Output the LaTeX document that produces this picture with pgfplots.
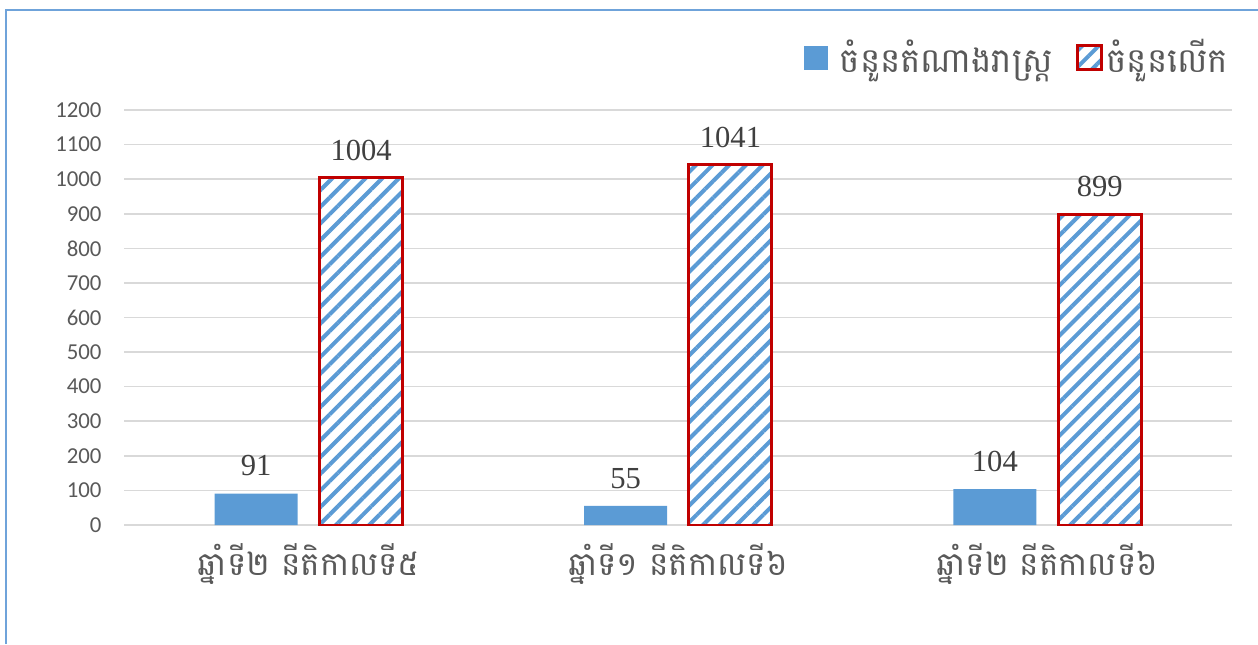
\documentclass[border=0pt]{standalone}
\usepackage{pgfplots}
\pgfplotsset{compat=1.18}
\usepackage{fontspec}
\usetikzlibrary{patterns.meta}
\setmainfont{Carlito}
\newfontfamily\khmer[Script=Khmer]{Battambang}
\newfontfamily\digitfont{Liberation Serif}
\definecolor{barblue}{HTML}{5B9BD5}
\definecolor{barred}{HTML}{C00000}
\definecolor{gridgray}{HTML}{D9D9D9}
\definecolor{txtgray}{HTML}{595959}
\definecolor{txtdark}{HTML}{404040}
\definecolor{frameblue}{HTML}{6FA3DA}
\begin{document}
\begin{tikzpicture}
\path[use as bounding box] (0,0) rectangle (629pt,322pt);
\draw[frameblue, line width=1pt] (3pt,0) -- (3pt,317pt) -- (629pt,317pt);
\begin{axis}[
  at={(62pt,59.5pt)}, anchor=south west,
  scale only axis, width=554pt, height=207.5pt,
  ybar, bar width=0.2248,
  xmin=-0.5, xmax=2.5, ymin=0, ymax=1200,
  ytick={0,100,...,1200},
  xtick={0,1,2},
  xticklabels={{ឆ្នាំទី២ នីតិកាលទី៥},{ឆ្នាំទី១ នីតិកាលទី៦},{ឆ្នាំទី២ នីតិកាលទី៦}},
  axis line style={draw=none},
  major tick length=0pt,
  ymajorgrids, grid style={gridgray, line width=0.8pt},
  /pgf/number format/assume math mode=true,
  /pgf/number format/1000 sep={},
  yticklabel style={font=\fontsize{11.4}{13}\selectfont, text=txtgray, anchor=east, xshift=-7.7pt},
  xticklabel style={font=\khmer\fontsize{16.3}{18}\selectfont, text=txtgray, anchor=base, yshift=-25pt},
  nodes near coords,
  every node near coord/.append style={font=\digitfont\fontsize{15.3}{18}\selectfont, text=txtdark, anchor=base, yshift=8.8pt},
  legend columns=2,
  legend style={draw=none, at={(rel axis cs:1.0005,1.126)}, anchor=east, inner sep=0pt,
    font=\khmer\fontsize{17}{19}\selectfont, text=txtgray,
    /tikz/every even column/.append style={column sep=9.5pt}},
  legend image code/.code={\path[#1] (0pt,-6pt) rectangle (12pt,6pt);},
]
\addplot[fill=barblue, draw=none, bar shift=-0.142] coordinates {(0,91) (1,55) (2,104)};
\addplot[draw=barred, line width=1.5pt, preaction={fill=white},
  pattern={Lines[angle=45, distance=5.9pt, line width=2pt]}, pattern color=barblue,
  bar shift=0.142] coordinates {(0,1004) (1,1041) (2,899)};
\legend{\hspace{4pt}ចំនួនតំណាងរាស្ត្រ, ចំនួនលើក}
\end{axis}
\end{tikzpicture}
\end{document}
